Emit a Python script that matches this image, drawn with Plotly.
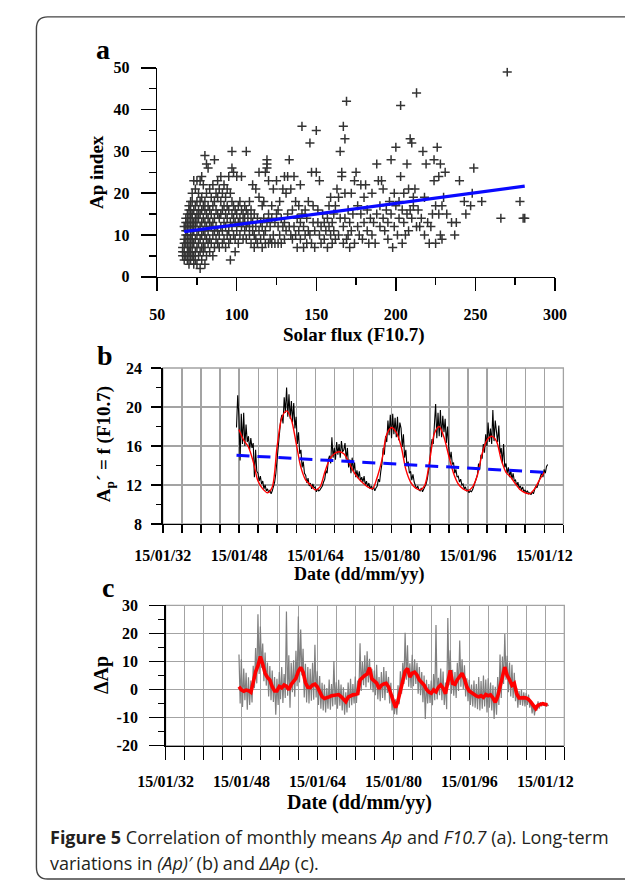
import pandas as pd
import plotly.graph_objects as go

W, H = 625, 890

# ---------------- Panel a : monthly Ap vs F10.7 ----------------
scatter_flux = [
    66, 66, 67, 67, 67, 68, 68, 68, 68, 69,
    69, 69, 69, 69, 70, 70, 70, 70, 70, 70,
    71, 71, 71, 71, 71, 71, 72, 72, 72, 72,
    72, 72, 72, 67, 68, 69, 70, 71, 66, 68,
    69, 70, 71, 72, 67, 69, 70, 71, 72, 73,
    73, 73, 73, 73, 73, 73, 74, 74, 74, 74,
    74, 74, 74, 75, 75, 75, 75, 75, 75, 75,
    76, 76, 76, 76, 76, 76, 77, 77, 77, 77,
    77, 77, 77, 78, 78, 78, 78, 78, 78, 78,
    79, 79, 79, 79, 79, 79, 80, 80, 80, 80,
    80, 80, 80, 81, 81, 81, 81, 81, 81, 82,
    82, 82, 82, 82, 83, 83, 83, 83, 83, 84,
    84, 84, 84, 85, 85, 85, 85, 85, 86, 86,
    86, 86, 86, 87, 87, 87, 87, 88, 88, 88,
    88, 88, 89, 89, 89, 89, 90, 90, 90, 90,
    91, 91, 91, 91, 92, 92, 92, 92, 93, 93,
    93, 93, 94, 94, 94, 94, 95, 95, 95, 95,
    96, 96, 96, 96, 97, 97, 97, 97, 97, 98,
    98, 98, 98, 99, 99, 99, 99, 100, 100, 100,
    101, 101, 101, 102, 102, 102, 103, 103, 103, 104,
    104, 104, 105, 105, 105, 106, 106, 106, 106, 107,
    107, 108, 108, 108, 109, 109, 109, 110, 110, 110,
    111, 111, 111, 112, 112, 112, 113, 113, 114, 114,
    114, 115, 115, 116, 116, 116, 117, 117, 117, 118,
    118, 118, 119, 119, 119, 119, 120, 120, 120, 121,
    121, 122, 122, 122, 123, 123, 124, 124, 125, 125,
    126, 126, 126, 127, 127, 128, 128, 129, 129, 130,
    130, 130, 131, 131, 132, 132, 133, 133, 134, 134,
    135, 135, 136, 136, 137, 137, 138, 138, 139, 139,
    140, 140, 140, 141, 141, 142, 142, 143, 143, 144,
    144, 145, 145, 146, 146, 147, 147, 148, 148, 149,
    149, 150, 150, 151, 151, 152, 152, 153, 153, 154,
    155, 155, 156, 157, 157, 158, 158, 159, 159, 160,
    160, 161, 161, 162, 162, 163, 164, 164, 165, 165,
    166, 166, 167, 167, 167, 168, 168, 168, 169, 169,
    170, 170, 171, 171, 172, 172, 173, 174, 174, 175,
    176, 176, 177, 178, 178, 179, 180, 180, 181, 182,
    182, 183, 184, 185, 185, 186, 187, 188, 188, 189,
    190, 190, 191, 192, 192, 193, 194, 195, 195, 196,
    197, 197, 198, 199, 199, 200, 200, 201, 202, 202,
    203, 203, 204, 204, 205, 205, 206, 207, 207, 208,
    208, 209, 209, 210, 210, 211, 211, 212, 213, 213,
    214, 215, 216, 217, 218, 218, 219, 220, 221, 222,
    223, 224, 224, 225, 225, 226, 227, 227, 228, 228,
    229, 229, 230, 231, 232, 235, 237, 238, 240, 243,
    244, 247, 248, 249, 254, 266, 270, 278, 280, 281,
]
scatter_ap = [
    5, 7, 4, 6, 9, 5, 8, 11, 13, 4,
    6, 10, 12, 15, 3, 5, 7, 9, 14, 17,
    4, 6, 8, 11, 13, 16, 5, 7, 10, 12,
    15, 18, 20, 8, 10, 13, 12, 9, 6, 14,
    8, 16, 15, 9, 12, 11, 6, 18, 14, 3,
    5, 8, 11, 13, 16, 23, 4, 6, 9, 12,
    14, 17, 21, 3, 7, 10, 13, 15, 18, 23,
    5, 8, 11, 14, 16, 20, 2, 6, 9, 12,
    15, 18, 23, 4, 7, 10, 13, 16, 19, 24,
    6, 8, 11, 14, 17, 22, 3, 7, 10, 13,
    16, 18, 29, 5, 9, 12, 15, 20, 27, 8,
    11, 14, 17, 26, 6, 9, 13, 16, 21, 8,
    12, 15, 19, 5, 10, 13, 17, 22, 7, 11,
    14, 18, 28, 9, 12, 16, 20, 8, 11, 15,
    19, 23, 7, 10, 14, 21, 12, 15, 18, 24,
    8, 11, 16, 20, 9, 13, 17, 22, 7, 12,
    15, 19, 10, 14, 17, 21, 8, 11, 16, 24,
    4, 9, 13, 20, 12, 15, 18, 26, 30, 10,
    14, 17, 25, 6, 9, 13, 16, 11, 15, 24,
    8, 13, 17, 10, 14, 18, 12, 16, 24, 9,
    13, 15, 11, 14, 17, 9, 12, 16, 30, 13,
    15, 10, 12, 18, 8, 14, 16, 11, 13, 22,
    7, 10, 15, 9, 12, 21, 8, 14, 11, 19,
    25, 9, 13, 7, 12, 17, 10, 14, 18, 8,
    11, 25, 13, 26, 27, 28, 8, 15, 23, 9,
    12, 14, 8, 17, 10, 21, 8, 13, 15, 23,
    8, 12, 16, 10, 18, 8, 14, 12, 21, 9,
    13, 24, 11, 20, 15, 24, 12, 28, 10, 21,
    9, 16, 12, 24, 10, 18, 7, 14, 11, 17,
    9, 13, 22, 36, 15, 7, 12, 16, 10, 8,
    14, 11, 18, 32, 10, 25, 8, 13, 17, 7,
    11, 25, 35, 13, 16, 23, 10, 8, 12, 15,
    9, 13, 11, 7, 14, 12, 17, 10, 19, 8,
    13, 11, 15, 9, 17, 21, 10, 19, 30, 14,
    24, 25, 36, 8, 12, 33, 20, 14, 42, 9,
    10, 16, 13, 7, 20, 11, 15, 8, 23, 25,
    12, 17, 10, 22, 15, 9, 13, 19, 22, 11,
    16, 8, 14, 10, 20, 13, 8, 27, 15, 23,
    12, 17, 23, 14, 21, 11, 16, 9, 13, 18,
    28, 15, 7, 12, 20, 31, 17, 10, 14, 18,
    41, 24, 16, 8, 13, 20, 10, 27, 15, 21,
    11, 33, 16, 32, 14, 19, 17, 21, 44, 12,
    16, 12, 14, 30, 10, 19, 27, 13, 8, 12,
    15, 23, 28, 8, 17, 31, 15, 24, 10, 27,
    17, 9, 19, 25, 15, 13, 10, 13, 23, 18,
    15, 17, 20, 26, 18, 14, 49, 18, 14, 14,
]
fit_flux = [67, 281]
fit_ap = [10.8, 21.7]

# ---------------- Panel b : Ap' = f(F10.7) ----------------
apf_start = "1947-07-01"          # quarterly samples
apf_raw = [
    17.9, 21.2,
    19.0, 14.5, 19.3, 16.2,
    19.4, 16.0, 18.2, 16.4,
    17.0, 15.6, 16.8, 15.8,
    16.3, 12.8, 15.6, 13.4,
    13.2, 12.4, 12.9, 12.1,
    12.4, 11.6, 12.0, 11.4,
    11.6, 11.2, 11.5, 11.1,
    11.4, 11.8, 12.3, 13.2,
    14.8, 16.3, 17.0, 18.6,
    19.2, 18.3, 21.0, 19.4,
    22.0, 19.0, 21.3, 18.8,
    20.6, 18.4, 20.4, 17.8,
    19.0, 16.2, 17.4, 15.2,
    15.6, 13.8, 14.4, 13.2,
    13.0, 12.2, 12.7, 11.9,
    12.2, 11.6, 12.1, 11.7,
    11.8, 11.3, 11.6, 11.4,
    11.5, 11.7, 11.9, 12.3,
    12.6, 13.5, 13.2, 14.6,
    15.0, 14.2, 16.9, 14.8,
    15.8, 14.6, 16.4, 15.1,
    16.2, 14.8, 16.5, 15.4,
    15.6, 16.3, 14.6, 15.8,
    13.8, 14.6, 13.2, 14.8,
    13.4, 14.3, 12.8, 13.5,
    12.7, 13.4, 12.4, 12.8,
    12.3, 12.9, 12.0, 12.4,
    11.8, 12.2, 11.6, 11.9,
    11.5, 11.8, 11.4, 11.7,
    11.9, 12.6, 12.3, 13.4,
    14.2, 15.8, 15.1, 17.0,
    16.4, 18.6, 17.1, 19.2,
    16.8, 19.3, 17.2, 18.9,
    16.9, 19.0, 16.6, 18.4,
    17.8, 15.9, 17.2, 14.8,
    15.6, 13.9, 14.4, 13.2,
    13.4, 12.5, 13.1, 12.3,
    12.0, 11.6, 11.9, 11.5,
    11.4, 11.7, 11.3, 11.6,
    11.8, 12.1, 12.6, 13.4,
    14.2, 15.8, 16.7, 16.2,
    18.2, 20.3, 16.8, 19.4,
    17.0, 19.7, 16.9, 19.1,
    17.4, 18.8, 16.3, 18.0,
    15.8, 14.6, 15.4, 14.1,
    14.3, 13.2, 13.6, 12.8,
    12.9, 12.3, 12.6, 12.0,
    12.1, 11.6, 11.8, 11.4,
    11.5, 11.2, 11.4, 11.3,
    11.5, 11.9, 12.2, 12.6,
    13.0, 14.2, 13.6, 15.1,
    14.7, 16.2, 15.3, 17.2,
    16.0, 18.4, 16.4, 17.8,
    16.2, 19.7, 16.5, 18.6,
    17.5, 16.4, 18.1, 15.2,
    15.8, 14.2, 16.2, 13.8,
    14.2, 13.2, 13.8, 12.8,
    13.5, 12.6, 13.2, 12.4,
    12.5, 11.9, 12.3, 11.7,
    11.9, 11.5, 11.8, 11.3,
    11.5, 11.2, 11.4, 11.1,
    11.2, 11.0, 11.3, 11.1,
    11.5, 11.9, 11.7, 12.2,
    12.4, 12.9, 13.3, 12.8,
    13.6, 13.2, 13.9, 14.1,
]
apf_smooth_start = "1948-01-01"   # yearly samples
apf_smooth = [
    17.7, 16.6, 15.9, 14.4, 12.4, 11.6, 11.2, 11.8, 15.9, 18.9,
    19.6, 18.7, 16.3, 13.8, 12.5, 12.0, 11.5, 11.8, 13.3, 14.6,
    15.2, 15.4, 15.2, 14.4, 13.4, 12.7, 12.2, 11.8, 11.6, 12.8,
    14.6, 17.2, 17.9, 17.4, 16.0, 13.6, 12.3, 11.7, 11.5, 12.0,
    14.5, 17.3, 18.0, 16.9, 15.0, 13.2, 12.1, 11.6, 11.4, 11.8,
    13.0, 15.2, 16.6, 17.0, 16.5, 14.6, 13.3, 12.8, 12.1, 11.5,
    11.2, 11.1, 11.6, 12.5, 13.3,
]
trend_dates = ["1947-07-01", "2012-01-01"]
trend_vals = [15.05, 13.3]

# ---------------- Panel c : Delta Ap ----------------
dap_start = "1947-07-01"          # quarterly samples
dap_raw = [
    12.5, -5.0,
    10.8, -6.2, 7.5, -3.8,
    6.0, -7.2, 4.4, -5.5,
    3.2, -4.6, 8.5, 0.5,
    14.8, 2.2, 26.8, 5.5,
    22.5, 7.8, 16.4, 3.0,
    13.2, 1.4, 9.6, -2.5,
    8.4, -3.8, 6.8, -4.4,
    4.5, -9.0, 3.8, -5.5,
    6.2, -3.5, 8.0, -4.8,
    5.5, -3.0, 27.8, -2.2,
    12.2, -6.5, 9.5, -1.0,
    10.4, -2.6, 13.8, 1.2,
    26.0, 2.5, 21.4, 5.0,
    14.5, -2.8, 9.2, -4.6,
    8.0, -5.0, 7.4, -4.0,
    9.5, -3.6, 16.0, -2.8,
    6.5, -5.5, 4.8, -6.8,
    2.4, -7.5, 1.8, -8.2,
    0.5, -6.8, 3.6, -7.2,
    2.0, -6.0, 10.2, -5.4,
    2.6, -6.8, 3.5, -5.8,
    1.8, -7.5, 0.8, -9.0,
    -1.0, -8.2, 2.5, -6.5,
    3.8, -5.6, 2.0, -5.0,
    4.6, -4.8, 3.2, -2.0,
    16.5, -0.5, 9.8, 1.5,
    12.2, 0.8, 13.6, 2.5,
    11.0, 0.2, 7.4, -1.0,
    6.8, -2.0, 8.8, -3.5,
    4.5, -4.2, 6.2, -3.0,
    8.0, -3.8, 6.6, -1.2,
    4.5, -5.0, 2.4, -7.5,
    -2.0, -8.8, -3.5, -9.0,
    1.5, -5.2, 6.5, -1.5,
    9.5, 2.0, 20.2, 3.5,
    15.8, 1.0, 9.4, 0.5,
    12.4, 1.2, 10.8, 2.0,
    9.5, -1.5, 8.0, -2.0,
    6.2, -4.5, 5.0, -10.5,
    3.5, -5.0, 2.0, -4.8,
    3.2, -5.6, 5.5, -3.8,
    23.0, -3.5, 4.2, -2.0,
    7.5, -3.8, 6.4, -5.5,
    2.5, -7.0, 25.5, 1.5,
    14.0, -1.5, 7.0, -2.2,
    6.2, -3.0, 9.5, -0.5,
    17.5, 1.0, 10.8, 0.2,
    8.6, -2.5, 4.0, -4.2,
    3.5, -5.5, 1.8, -6.0,
    3.2, -6.5, 2.0, -7.0,
    4.5, -7.5, 3.0, -6.8,
    5.0, -6.0, 3.6, -8.2,
    4.0, -6.5, 2.5, -7.5,
    1.5, -10.5, 1.0, -9.0,
    4.5, -5.5, 12.5, -3.0,
    11.8, 2.0, 19.8, 3.5,
    12.0, -1.0, 9.6, -2.5,
    8.8, -3.0, 6.0, -4.2,
    0.5, -6.5, -0.5, -5.5,
    0.0, -5.8, -1.0, -6.0,
    -1.2, -5.5, -1.8, -6.5,
    -4.0, -8.5, -5.2, -9.2,
    -5.5, -7.5, -4.2, -6.8,
    -4.5, -6.0, -4.8, -5.8,
    -5.0, -6.0, -5.4, -5.8,
]
dap_smooth_start = "1947-07-01"   # half-yearly samples
dap_smooth = [
    1.0,
    -0.1, -0.6, -0.2, -0.4, -1.0, 2.5, 6.3, 8.5, 11.8, 9.0,
    5.8, 4.3, 3.4, 1.0, -0.5, -0.5, 1.1, 0.6, 1.6, 1.2,
    -0.1, 1.8, 2.8, 4.0, 6.5, 7.9, 6.2, 2.5, 0.8, 0.7,
    1.6, 1.9, 1.0, -0.5, -2.5, -3.2, -3.0, -2.6, -2.2, -2.0,
    -1.7, -1.8, -2.5, -3.5, -4.3, -2.7, -2.2, -1.9, -1.8, -1.5,
    3.4, 4.4, 5.0, 5.5, 7.8, 3.8, 2.9, 2.3, 0.3, 1.5,
    2.0, 2.2, 1.0, -1.5, -4.6, -6.5, -4.0, 0.0, 4.0, 6.5,
    7.5, 4.5, 5.8, 6.2, 5.2, 3.4, 2.5, 1.6, 0.0, -0.9,
    -1.3, -0.1, -0.8, 0.8, 1.6, 0.5, -1.5, 3.0, 6.8, 2.2,
    1.9, 3.5, 4.8, 5.8, 3.8, 1.0, -0.5, -1.2, -1.5, -2.3,
    -2.6, -2.2, -2.8, -1.8, -2.2, -1.9, -3.0, -4.6, -2.5, 0.5,
    4.5, 8.0, 5.0, 3.5, 1.5, 2.2, -1.5, -3.0, -2.8, -2.9,
    -3.0, -3.5, -4.5, -5.8, -6.8, -5.6, -5.2, -5.0, -5.3, -5.4,
]

# ---------------- Tick labels ----------------
label_years = [1932, 1948, 1964, 1980, 1996, 2012]
date_labels = ["15/01/32", "15/01/48", "15/01/64", "15/01/80", "15/01/96", "15/01/12"]
dap_ticks = [-20, -10, 0, 10, 20, 30]
dap_ticklabels = ["-20", "-10", "0", "10", "20", "30"]

date_tickvals = [f"{y}-01-15" for y in label_years]

# sample dates
apf_dates = pd.date_range(apf_start, periods=len(apf_raw), freq="3MS")
apf_smooth_dates = pd.date_range(apf_smooth_start, periods=len(apf_smooth), freq="12MS")
dap_dates = pd.date_range(dap_start, periods=len(dap_raw), freq="3MS")
dap_smooth_dates = pd.date_range(dap_smooth_start, periods=len(dap_smooth), freq="6MS")


def px(x):
    return x / W


def py(y):
    return 1 - y / H


SERIF = "Liberation Serif"
BLUE = "#0a0aff"
GRID = "#a3a3a3"
DATE_RANGE = ["1932-01-15", "2016-01-15"]

fig = go.Figure()

# panel a
fig.add_trace(go.Scatter(
    x=scatter_flux, y=scatter_ap, mode="markers", xaxis="x", yaxis="y",
    marker=dict(symbol="cross-thin", size=6.5, color="#333333",
                line=dict(width=1.5, color="#333333")),
    showlegend=False, hoverinfo="skip"))
fig.add_trace(go.Scatter(
    x=fit_flux, y=fit_ap, mode="lines", xaxis="x", yaxis="y",
    line=dict(color=BLUE, width=3.2), showlegend=False, hoverinfo="skip"))

# panel b
fig.add_trace(go.Scatter(
    x=apf_dates, y=apf_raw, mode="lines", xaxis="x2", yaxis="y2",
    line=dict(color="black", width=1.1), showlegend=False, hoverinfo="skip"))
fig.add_trace(go.Scatter(
    x=apf_smooth_dates, y=apf_smooth, mode="lines", xaxis="x2", yaxis="y2",
    line=dict(color="#ff0000", width=1.4, shape="spline", smoothing=0.8),
    showlegend=False, hoverinfo="skip"))
fig.add_trace(go.Scatter(
    x=trend_dates, y=trend_vals, mode="lines", xaxis="x2", yaxis="y2",
    line=dict(color=BLUE, width=3, dash="13px,8px"), showlegend=False, hoverinfo="skip"))

# panel c
fig.add_trace(go.Scatter(
    x=dap_dates, y=dap_raw, mode="lines", xaxis="x3", yaxis="y3",
    line=dict(color="#808080", width=1.2), showlegend=False, hoverinfo="skip"))
fig.add_trace(go.Scatter(
    x=dap_smooth_dates, y=dap_smooth, mode="lines", xaxis="x3", yaxis="y3",
    line=dict(color="#ff0000", width=3.6), showlegend=False, hoverinfo="skip"))

tickfont = dict(family=SERIF, size=16, color="black", weight="bold")
common = dict(showline=True, linecolor="black", linewidth=1.5, ticks="outside",
              tickwidth=1.5, tickcolor="black", zeroline=False, tickfont=tickfont,
              fixedrange=True, tickangle=0)


def minor(dtick, ticklen, tick0=None, grid=False):
    d = dict(dtick=dtick, ticklen=ticklen, ticks="outside", tickwidth=1.5,
             tickcolor="black", showgrid=grid)
    if grid:
        d["gridcolor"] = GRID
        d["gridwidth"] = 1.3
    if tick0 is not None:
        d["tick0"] = tick0
    return d


def date_axis(domain, anchor, ticklen):
    # labelled ticks every 16 years, grid + long ticks every 4 years
    return dict(domain=domain, type="date", range=DATE_RANGE,
                tickmode="array", tickvals=date_tickvals, ticktext=date_labels,
                ticklen=ticklen, showgrid=True, gridcolor=GRID, gridwidth=1.3,
                minor=minor("M48", ticklen, "1932-01-15", grid=True),
                anchor=anchor, ticklabelstandoff=8, **common)


def short_ticks(over, anchor, ticklen):
    # extra short ticks every 2 years
    return dict(overlaying=over, anchor=anchor, type="date", range=DATE_RANGE,
                tick0="1930-01-15", dtick="M24", ticks="outside", ticklen=ticklen,
                tickwidth=1.5, tickcolor="black", showticklabels=False,
                showgrid=False, showline=False, zeroline=False, fixedrange=True)


fig.update_layout(
    width=W, height=H, autosize=False,
    margin=dict(l=0, r=0, t=0, b=0),
    paper_bgcolor="white", plot_bgcolor="rgba(0,0,0,0)",
    showlegend=False,
    # ---- a ----
    xaxis=dict(domain=[px(138), px(563)], range=[50, 300], tick0=50, dtick=50,
               ticklen=13, minor=minor(25, 7), showgrid=False, anchor="y",
               ticklabelstandoff=10, **common),
    yaxis=dict(domain=[py(274), py(61)], range=[0, 50], tick0=0, dtick=10,
               ticklen=15, minor=minor(5, 7), showgrid=False, anchor="x",
               ticklabelstandoff=8, **common),
    # ---- b ----
    xaxis2=date_axis([px(144), px(572)], "y2", 8),
    xaxis4=short_ticks("x2", "y2", 4),
    yaxis2=dict(domain=[py(526), py(367)], range=[8, 24], tick0=8, dtick=4,
                ticklen=10, minor=minor(2, 5), showgrid=True, gridcolor=GRID,
                gridwidth=1.3, anchor="x2", ticklabelstandoff=6, **common),
    # ---- c ----
    xaxis3=date_axis([px(147), px(573)], "y3", 13),
    xaxis5=short_ticks("x3", "y3", 5),
    yaxis3=dict(domain=[py(752), py(609)], range=[-20, 30],
                tickmode="array", tickvals=dap_ticks, ticktext=dap_ticklabels,
                ticklen=15, minor=minor(5, 6, -20), showgrid=True, gridcolor=GRID,
                gridwidth=1.3, anchor="x3", ticklabelstandoff=8, **common),
)

# grey frame (top / right borders) of panels b and c
for xr, yr in (("x2 domain", "y2 domain"), ("x3 domain", "y3 domain")):
    fig.add_shape(type="rect", xref=xr, yref=yr, x0=0, x1=1, y0=0, y1=1,
                  line=dict(color=GRID, width=1.3), layer="below")

# outer rounded frame (open on the right side, as in the page crop)
rx, ry = 12 / W, 12 / H
x0, xt = px(9), 1.05
yt, yb = py(9), py(888)
frame_path = (f"M {xt},{yt} L {x0 + rx},{yt} Q {x0},{yt} {x0},{yt - ry} "
              f"L {x0},{yb + ry} Q {x0},{yb} {x0 + rx},{yb} L {xt},{yb}")
fig.add_shape(type="path", xref="paper", yref="paper", path=frame_path,
              line=dict(color="#444444", width=1.4))


def label(text, x, y, size, angle=0, family=SERIF, weight="bold",
          xanchor="center", color="black"):
    fig.add_annotation(text=text, x=px(x), y=py(y), xref="paper", yref="paper",
                       showarrow=False, textangle=angle, xanchor=xanchor,
                       yanchor="middle", borderpad=0,
                       font=dict(family=family, size=size, color=color, weight=weight))


label("a", 80, 42, 28)
label("Ap index", 74, 167, 19, angle=-90)
label("Solar flux (F10.7)", 348, 333, 19)

label("b", 82, 354, 28)
label("A<sub>p</sub>´ = f (F10.7)", 82, 445, 19, angle=-90)
label("Date (dd/mm/yy)", 354, 578, 18)

label("c", 86, 591, 28)
label("ΔAp", 78, 680, 20, angle=-90)
label("Date (dd/mm/yy)", 354, 810, 20)

CAP = "Open Sans"
label("<b>Figure 5</b> Correlation of monthly means <i>Ap</i> and <i>F10.7</i> (a). Long-term",
      22, 845, 18, family=CAP, weight="normal", xanchor="left", color="#231f20")
label("variations in <i>(Ap)′</i> (b) and <i>∆Ap</i> (c).",
      22, 872, 18, family=CAP, weight="normal", xanchor="left", color="#231f20")

fig.write_html("out.html",
               config={"displayModeBar": False, "staticPlot": True},
               post_script="document.body.style.margin='0';"
                           "document.body.style.overflow='hidden';")
